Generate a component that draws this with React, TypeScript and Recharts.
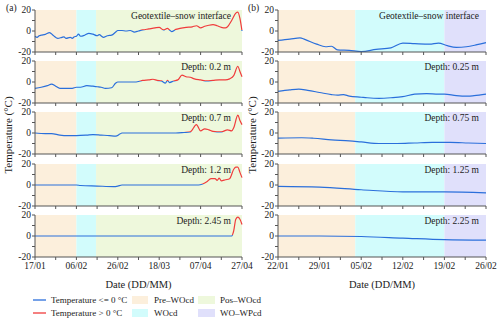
import { LineChart, Line, XAxis, YAxis, ReferenceArea } from 'recharts';

type Pt = [number, number];
type Period = { name: string; from: number; to: number };

// tick labels
const leftTicks = [0, 10, 20, 30, 40, 50, 60, 70, 80, 90, 100];
const leftTickLabels = ['17/01', '06/02', '26/02', '18/03', '07/04', '27/04'];
const rightTicks = [0, 3.5, 7, 10.5, 14, 17.5, 21, 24.5, 28, 31.5, 35];
const rightTickLabels = ['22/01', '29/01', '05/02', '12/02', '19/02', '26/02'];
const yTicks = [-20, -10, 0, 10, 20];

// (a) site, day since 17/01 -> temperature
const leftGeo: Pt[] = [
  [0, -5], [1, -6], [2, -4.5], [3, -4], [5, -3.2], [7, -1.5], [9, -4.5], [11, -7], [13, -6], [14, -5.5],
  [15, -7], [17, -6], [18, -7], [19, -5.5], [20, -5], [21, -3], [22, -5], [24, -4], [26, -2.2], [28, -3],
  [30, -4.5], [31, -3.5], [33, -6], [35, -4.5], [37, -4], [39, -1], [40, 0.5], [42, 0.5], [44, 0], [46, 0.5],
  [48, -1], [50, 0], [52, 1], [55, 2], [58, 3], [60, 3.5], [62, 1], [64, 2.5], [65, 1], [66, -0.5],
  [68, 1.5], [70, 2.5], [73, 3.5], [76, 4], [78, 5], [80, 3], [82, 4.5], [84, 5.5], [86, 6], [88, 5],
  [90, 3.5], [92, 3], [93, 4], [95, 10], [97, 17], [98, 18], [99, 12], [100, 0],
];
const left02: Pt[] = [
  [0, -6], [3, -5], [6, -3.5], [8, -2], [10, -4], [12, -6], [15, -6], [18, -6], [20, -5], [22, -5],
  [25, -3.5], [28, -4], [30, -4.5], [32, -5], [34, -6], [37, -5.5], [39, -1], [40, 0], [44, 0], [48, 0],
  [50, 0.5], [52, 1.5], [55, 2], [57, 2.6], [59, 1.5], [61, 1], [63, -1], [64, 1.5], [65, -0.5], [67, 1],
  [69, 2], [71, 6.5], [73, 5], [75, 4.5], [77, 3], [80, 2], [83, 1], [86, 1.5], [89, 2], [92, 2],
  [94, 3], [96, 6], [98, 15], [99, 10], [100, 5],
];
const left07: Pt[] = [
  [0, 0], [5, -0.5], [8, -0.5], [12, -2], [16, -2.5], [20, -2.5], [25, -2], [28, -1.5], [32, -2], [36, -2.5],
  [39, -3], [41, -1], [42, 0], [50, 0], [60, 0], [68, 0], [72, 0.5], [75, 1], [78, 8], [80, 2],
  [82, 4], [84, 3], [86, 1.5], [90, 1], [93, 3], [95, 2], [96, 5], [98, 17], [99, 12], [100, 8],
];
const left12: Pt[] = [
  [0, 0], [20, 0], [22, -0.5], [30, -1], [38, -1.5], [40, -1], [42, 0], [60, 0], [79, 0], [81, 1],
  [83, 3], [85, 6], [87, 6], [88, 4.5], [89, 6.5], [90, 4], [92, 5], [94, 6], [96, 15], [97, 17],
  [98, 17], [99, 12], [100, 7],
];
const left245: Pt[] = [
  [0, 0], [40, 0], [80, 0], [95, 0], [96, 5], [97, 16], [98, 18], [99, 16], [100, 11],
];

// (b) site, day since 22/01 -> temperature
const rightGeo: Pt[] = [
  [0, -9], [2, -7.8], [3.7, -6.5], [4.5, -8], [6.5, -12.5], [8, -15], [9, -14.5], [10, -18], [12, -18.5], [14, -19.5],
  [16.5, -17.5], [19, -16], [21, -11.5], [23, -12], [25.5, -12.5], [27, -11.5], [28.5, -14], [30, -15.5], [31.7, -15], [33.5, -13],
  [35, -11],
];
const right025: Pt[] = [
  [0, -9], [2, -7.5], [3.5, -6.8], [5, -8], [7, -10], [9, -12], [10, -12.5], [11, -12], [12, -13.5], [14, -14.5],
  [15, -15], [17, -15.5], [19, -15], [21, -14], [23, -11.5], [25, -11], [27, -11.5], [28, -11.5], [30, -13], [32, -13.5],
  [33, -13], [35, -11.5],
];
const right075: Pt[] = [
  [0, -4.8], [4, -4.5], [6, -5], [9, -6.5], [12, -7.5], [14, -8.5], [17, -10], [20, -10], [23, -9.5], [26, -9],
  [29, -9], [32, -9.5], [35, -10],
];
const right125: Pt[] = [[0, -1.3], [7, -2], [14, -4.5], [21, -6.5], [28, -6.5], [35, -7.5]];
const right225: Pt[] = [[0, 0], [7, 0], [14, -0.5], [21, -2], [28, -3.5], [35, -4]];

const leftNames = ['Geotextile–snow interface', 'Depth: 0.2 m', 'Depth: 0.7 m', 'Depth: 1.2 m', 'Depth: 2.45 m'];
const rightNames = ['Geotextile–snow interface', 'Depth: 0.25 m', 'Depth: 0.75 m', 'Depth: 1.25 m', 'Depth: 2.25 m'];

const leftPeriods: Period[] = [
  { name: 'Pre–WOcd', from: 0, to: 20 },
  { name: 'WOcd', from: 20, to: 29.5 },
  { name: 'Pos–WOcd', from: 29.5, to: 100 },
];
const rightPeriods: Period[] = [
  { name: 'Pre–WOcd', from: 0, to: 13 },
  { name: 'WOcd', from: 13, to: 28 },
  { name: 'WO–WPcd', from: 28, to: 35 },
];

const fills: Record<string, string> = {
  'Pre–WOcd': '#fcefdc',
  'WOcd': '#d2fcfc',
  'Pos–WOcd': '#eef8dc',
  'WO–WPcd': '#e0e0fb',
};

const BLUE = '#2a6fdb';
const RED = '#f03c3c';
const AX = '#555';
const TXT = '#222';
const FONT = '"Liberation Serif", "Times New Roman", serif';

const PLOT_TOP = 9.5;
const ROW_GAP = 51.4;
const PLOT_H = 42;

type PanelProps = {
  id: string;
  series: Pt[];
  row: number;
  side: 'a' | 'b';
};

const Panel = ({ id, series, row, side }: PanelProps) => {
  const isLeft = side === 'a';
  const bottom = row === 4;
  const mt = 6;
  const xh = bottom ? 19 : 6;
  const top = PLOT_TOP + row * ROW_GAP;
  const data = series.map(([d, v]) => ({ d, v }));
  const zero = (PLOT_H / 2 - 0.65) / PLOT_H;
  const domain = isLeft ? [0, 100] : [0, 35];
  const ticks = isLeft ? leftTicks : rightTicks;
  const labels = isLeft ? leftTickLabels : rightTickLabels;
  const step = isLeft ? 20 : 7;
  const periods = isLeft ? leftPeriods : rightPeriods;

  const fmtX = (v: number) => {
    if (!bottom) return '';
    const i = v / step;
    return Number.isInteger(i) ? labels[i] : '';
  };

  return (
    <div style={{ position: 'absolute', left: isLeft ? 0 : 250, top: top - mt }}>
      <LineChart
        width={isLeft ? 262 : 250}
        height={mt + PLOT_H + xh}
        data={data}
        margin={{ top: mt, right: isLeft ? 20 : 14, bottom: 0, left: isLeft ? 5 : 0 }}
      >
        <defs>
          <linearGradient id={id} gradientUnits="userSpaceOnUse" x1={0} y1={mt} x2={0} y2={mt + PLOT_H}>
            <stop offset={0} stopColor={RED} />
            <stop offset={zero} stopColor={RED} />
            <stop offset={zero} stopColor={BLUE} />
            <stop offset={1} stopColor={BLUE} />
          </linearGradient>
        </defs>
        {periods.map((p) => (
          <ReferenceArea
            key={p.name}
            x1={p.from}
            x2={p.to}
            y1={-20}
            y2={20}
            fill={fills[p.name]}
            fillOpacity={1}
            stroke="none"
          />
        ))}
        <XAxis xAxisId="t" orientation="top" height={0} type="number" domain={domain} tick={false} tickLine={false} axisLine={{ stroke: AX }} />
        <YAxis yAxisId="r" orientation="right" width={0} tick={false} tickLine={false} axisLine={{ stroke: AX }} />
        <XAxis
          dataKey="d"
          type="number"
          domain={domain}
          ticks={ticks}
          interval={0}
          height={xh}
          tickSize={3}
          tickMargin={2.5}
          tickFormatter={fmtX}
          tick={{ fontSize: 9.5, fill: TXT, fontFamily: FONT }}
          stroke={AX}
        />
        <YAxis
          type="number"
          domain={[-20, 20]}
          ticks={yTicks}
          interval={0}
          width={isLeft ? 30 : 28}
          tickSize={3}
          tickMargin={1}
          tickFormatter={(v: number) => (v % 20 === 0 ? String(v) : '')}
          tick={{ fontSize: 9.5, fill: TXT, fontFamily: FONT }}
          stroke={AX}
        />
        <Line
          dataKey="v"
          type="monotone"
          stroke={`url(#${id})`}
          strokeWidth={1.2}
          dot={false}
          isAnimationActive={false}
        />
      </LineChart>
    </div>
  );
};

const Legend = () => {
  const rows = [
    { line: BLUE, text: 'Temperature <= 0 °C', a: 'Pre–WOcd', b: 'Pos–WOcd', y: 300 },
    { line: RED, text: 'Temperature > 0 °C', a: 'WOcd', b: 'WO–WPcd', y: 313 },
  ];
  return (
    <g fontSize={9} fill={TXT}>
      {rows.map((r) => (
        <g key={r.text}>
          <line x1={33} x2={46} y1={r.y} y2={r.y} stroke={r.line} strokeWidth={1.3} />
          <text x={51} y={r.y + 3}>{r.text}</text>
          <rect x={132} y={r.y - 4} width={16} height={8} fill={fills[r.a]} />
          <text x={154} y={r.y + 3}>{r.a}</text>
          <rect x={198} y={r.y - 4} width={17} height={8} fill={fills[r.b]} />
          <text x={220} y={r.y + 3}>{r.b}</text>
        </g>
      ))}
    </g>
  );
};

const App = () => {
  const leftSeries = [leftGeo, left02, left07, left12, left245];
  const rightSeries = [rightGeo, right025, right075, right125, right225];
  return (
    <div
      style={{
        position: 'absolute',
        left: 0,
        top: 0,
        width: 500,
        height: 322,
        background: '#fff',
        fontFamily: FONT,
        overflow: 'hidden',
      }}
    >
      {leftSeries.map((s, i) => (
        <Panel key={'a' + i} id={'ga' + i} series={s} row={i} side="a" />
      ))}
      {rightSeries.map((s, i) => (
        <Panel key={'b' + i} id={'gb' + i} series={s} row={i} side="b" />
      ))}
      <svg width={500} height={322} style={{ position: 'absolute', left: 0, top: 0, pointerEvents: 'none' }} fontFamily={FONT}>
        <text x={6} y={10.5} fontSize={9.5} fill={TXT}>(a)</text>
        <text x={248} y={10.5} fontSize={9.5} fill={TXT}>(b)</text>
        <text transform="translate(12,135) rotate(-90)" textAnchor="middle" fontSize={11} fill={TXT}>Temperature (°C)</text>
        <text transform="translate(256,135) rotate(-90)" textAnchor="middle" fontSize={11} fill={TXT}>Temperature (°C)</text>
        <text x={138.5} y={288} textAnchor="middle" fontSize={10.5} fill={TXT}>Date (DD/MM)</text>
        <text x={382} y={288} textAnchor="middle" fontSize={10.5} fill={TXT}>Date (DD/MM)</text>
        {leftNames.map((n, i) => (
          <text key={'la' + i} x={231} y={PLOT_TOP + i * ROW_GAP + 9} textAnchor="end" fontSize={9.5} fill={TXT}>{n}</text>
        ))}
        {rightNames.map((n, i) => (
          <text key={'lb' + i} x={479} y={PLOT_TOP + i * ROW_GAP + 9} textAnchor="end" fontSize={9.5} fill={TXT}>{n}</text>
        ))}
        <Legend />
      </svg>
    </div>
  );
};

export default App;
